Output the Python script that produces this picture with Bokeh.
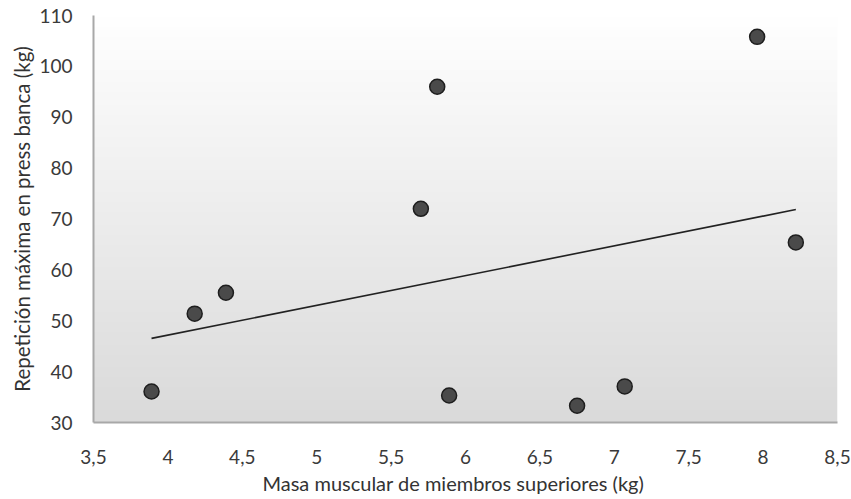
import numpy as np
from bokeh.plotting import figure
from bokeh.models import Range1d, FixedTicker, Title
from bokeh.embed import file_html
from bokeh.resources import INLINE

# Data
masa_muscular = [3.89, 4.18, 4.39, 5.70, 5.81, 5.89, 6.75, 7.07, 7.96, 8.22]
rm_press_banca = [36.1, 51.4, 55.5, 72.0, 96.0, 35.3, 33.3, 37.1, 105.8, 65.4]

x_ticks = [3.5, 4, 4.5, 5, 5.5, 6, 6.5, 7, 7.5, 8, 8.5]
x_tick_labels = ["3,5", "4", "4,5", "5", "5,5", "6", "6,5", "7", "7,5", "8", "8,5"]
y_ticks = [30, 40, 50, 60, 70, 80, 90, 100, 110]

x_title = "Masa muscular de miembros superiores (kg)"
y_title = "Repetición máxima en press banca (kg)"

x_start, x_end = 3.5, 8.5
y_start, y_end = 30, 110

FONT = "Lato"

p = figure(width=851, height=499, output_backend="svg", toolbar_location=None,
           x_range=Range1d(x_start, x_end), y_range=Range1d(y_start, y_end),
           min_border_left=93, min_border_right=14, min_border_top=15,
           min_border_bottom=77)
p.background_fill_color = "white"
p.border_fill_color = "white"
p.outline_line_color = None
p.xgrid.grid_line_color = None
p.ygrid.grid_line_color = None

# vertical gradient background (white at top -> light gray at bottom)
n = 200
top, bot = 255, 218
vals = np.linspace(bot, top, n).astype(np.uint32)
img = np.empty((n, 2), dtype=np.uint32)
view = img.view(dtype=np.uint8).reshape((n, 2, 4))
for i in range(n):
    view[i, :, 0] = vals[i]
    view[i, :, 1] = vals[i]
    view[i, :, 2] = vals[i]
    view[i, :, 3] = 255
p.image_rgba(image=[img], x=x_start, y=y_start, dw=x_end - x_start, dh=y_end - y_start)

# trendline (least squares)
slope, intercept = np.polyfit(masa_muscular, rm_press_banca, 1)
xs = [min(masa_muscular), max(masa_muscular)]
ys = [slope * v + intercept for v in xs]
p.line(xs, ys, line_color="#222222", line_width=1.6)

p.scatter(masa_muscular, rm_press_banca, size=15, fill_color="#4a4a4a",
          line_color="#1e1e1e", line_width=1.5)

for ax in (p.xaxis[0], p.yaxis[0]):
    ax.axis_line_color = "#a8a8a8"
    ax.axis_line_width = 2
    ax.major_tick_line_color = None
    ax.minor_tick_line_color = None
    ax.major_tick_in = 0
    ax.major_tick_out = 0
    ax.major_label_text_font = FONT
    ax.major_label_text_font_size = "19px"
    ax.major_label_text_color = "#3a3a3a"
    ax.axis_label_text_font = FONT
    ax.axis_label_text_font_style = "normal"
    ax.axis_label_text_color = "#333333"

p.xaxis.ticker = FixedTicker(ticks=x_ticks)
p.xaxis.major_label_overrides = {t: l for t, l in zip(x_ticks, x_tick_labels)}
p.xaxis.major_label_standoff = 27

# x-axis title, placed slightly left of centre as in the reference
xt = Title(text=x_title, align="left", offset=169, standoff=4,
           text_font=FONT, text_font_size="20px", text_font_style="normal",
           text_color="#333333", text_line_height=0.9)
p.add_layout(xt, "below")

p.yaxis.ticker = FixedTicker(ticks=y_ticks)
p.yaxis.major_label_standoff = 21
p.yaxis.axis_label = y_title
p.yaxis.axis_label_text_font_size = "20.5px"
p.yaxis.axis_label_standoff = 2

open("out.html", "w").write(file_html(p, INLINE))
